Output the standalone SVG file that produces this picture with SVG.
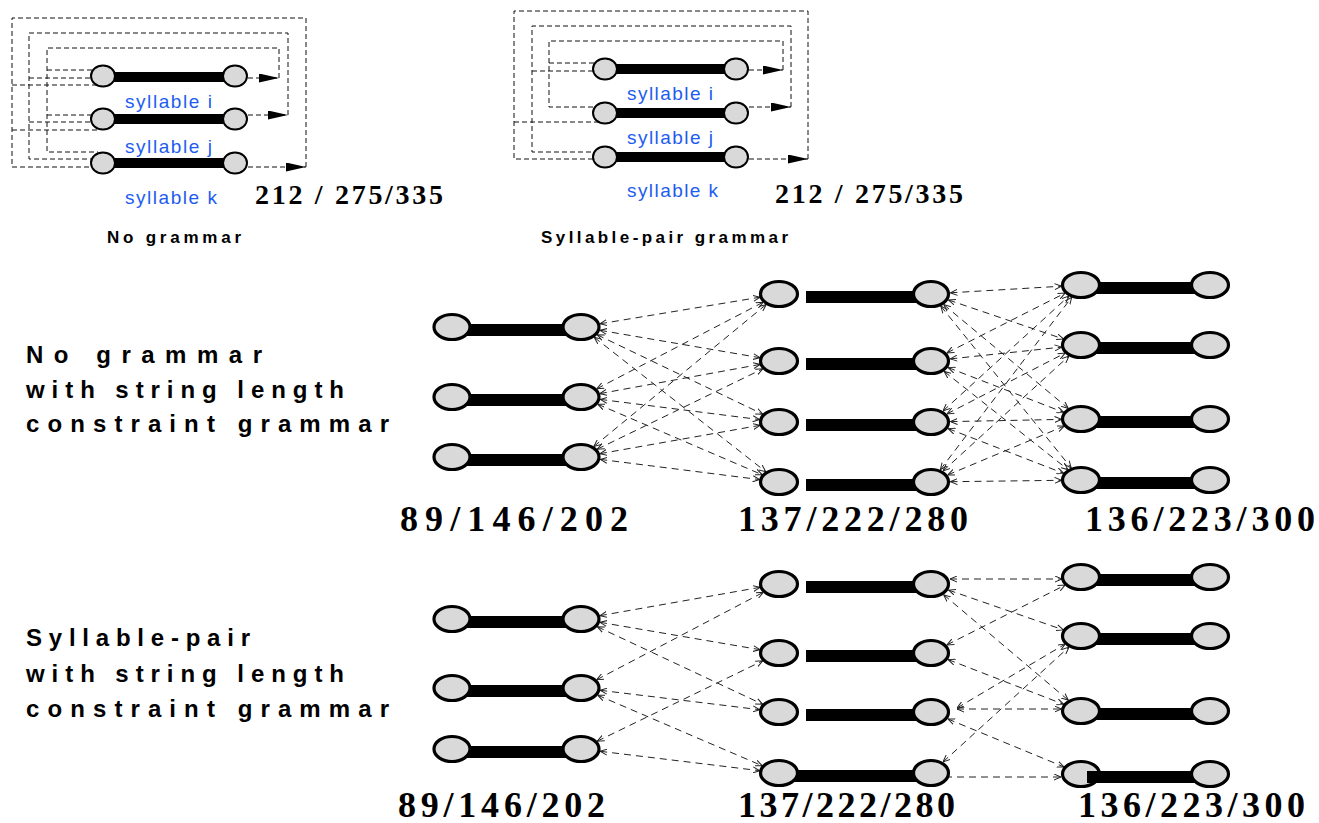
<svg xmlns="http://www.w3.org/2000/svg" width="1319" height="823" viewBox="0 0 1319 823">
<style>
.el{fill:#d9d9d9;stroke:#000;stroke-width:3.2}
.es{fill:#d9d9d9;stroke:#000;stroke-width:2}
.bar{fill:#000}
.dl{fill:none;stroke:#111;stroke-width:1;stroke-dasharray:5 3}
.ar{fill:none;stroke:#111;stroke-width:1;stroke-dasharray:5 3;marker-end:url(#fa)}
.cn{fill:none;stroke:#222;stroke-width:1;stroke-dasharray:7 5;marker-start:url(#oa);marker-end:url(#oa)}
.syl{font-family:"Liberation Sans",Arial,sans-serif;font-size:19px;fill:#1e5cf0}
.cap{font-family:"Liberation Sans",Arial,sans-serif;font-size:17px;font-weight:bold;fill:#000}
.big{font-family:"Liberation Sans",Arial,sans-serif;font-size:24px;font-weight:bold;fill:#000}
.num{font-family:"Liberation Serif","Times New Roman",serif;font-size:36px;font-weight:bold;fill:#000}
.num2{font-family:"Liberation Serif","Times New Roman",serif;font-size:28px;font-weight:bold;fill:#000}
</style>
<defs>
<marker id="fa" viewBox="0 0 20 9" refX="20" refY="4.5" markerWidth="20" markerHeight="9" markerUnits="userSpaceOnUse" orient="auto"><path d="M0,0 L20,4.5 L0,9 z" fill="#000"/></marker>
<marker id="oa" viewBox="0 0 7 7" refX="7" refY="3.5" markerWidth="7" markerHeight="7" markerUnits="userSpaceOnUse" orient="auto-start-reverse"><path d="M0,0.5 L7,3.5 L0,6.5" fill="none" stroke="#222" stroke-width="1"/></marker>
</defs>
<rect width="1319" height="823" fill="#fff"/>

<g id="connectors">
  <!-- top-left: no grammar loops -->
  <path class="dl" d="M279,78 V48 H47 V152 H98 M47,70 H98 M47,115 H98"/>
  <path class="dl" d="M288,115 V33 H29 V159 H98 M29,78 H98 M29,122 H98"/>
  <path class="dl" d="M306,167 V18 H12 V167 H98 M12,85 H98 M12,130 H98"/>
  <path class="ar" d="M240,78 H279"/>
  <path class="ar" d="M240,115 H288"/>
  <path class="ar" d="M240,167 H306"/>
  <!-- top-middle: syllable-pair loops -->
  <path class="dl" d="M783,70 V41 H549 V107 H600 M549,63 H600"/>
  <path class="dl" d="M791,107 V26 H532 V152 H600 M532,71 H600"/>
  <path class="dl" d="M808,159 V11 H514 V159 H600 M514,122 H600"/>
  <path class="ar" d="M741,70 H783"/>
  <path class="ar" d="M741,107 H791"/>
  <path class="ar" d="M741,159 H808"/>
  <!-- middle lattice col1 -> col2 -->
  <path class="cn" d="M600,323.8 L760,297.2"/>
  <path class="cn" d="M600,330.3 L760,357.7"/>
  <path class="cn" d="M597.2,334.8 L762.8,414.2"/>
  <path class="cn" d="M594.2,337.3 L765.8,471.7"/>
  <path class="cn" d="M596.8,388.8 L763.2,302.2"/>
  <path class="cn" d="M599.9,393.6 L760.1,364.4"/>
  <path class="cn" d="M600.2,399.4 L759.8,419.6"/>
  <path class="cn" d="M597.7,404.2 L762.3,474.8"/>
  <path class="cn" d="M593.8,446.5 L766.2,304.5"/>
  <path class="cn" d="M597.2,449.2 L762.8,368.8"/>
  <path class="cn" d="M599.9,453.7 L760.1,425.3"/>
  <path class="cn" d="M600.2,459.4 L759.8,479.6"/>
  <!-- middle lattice col2 -> col3 -->
  <path class="cn" d="M950.4,292.8 L1061.6,286.2"/>
  <path class="cn" d="M948.6,300 L1063.4,339"/>
  <path class="cn" d="M943.7,304.6 L1068.3,408.4"/>
  <path class="cn" d="M940.8,306.1 L1071.2,467.9"/>
  <path class="cn" d="M946.9,352.9 L1065.1,293.1"/>
  <path class="cn" d="M950.3,358.9 L1061.7,347.1"/>
  <path class="cn" d="M948.2,367.6 L1063.8,412.4"/>
  <path class="cn" d="M944.1,371.4 L1067.9,469.6"/>
  <path class="cn" d="M943,411 L1069,296"/>
  <path class="cn" d="M946.9,413.9 L1065.1,353.1"/>
  <path class="cn" d="M950.5,421.6 L1061.5,419.4"/>
  <path class="cn" d="M948.2,428.6 L1063.8,473.4"/>
  <path class="cn" d="M940.3,469.7 L1071.7,297.3"/>
  <path class="cn" d="M943,471 L1069,356"/>
  <path class="cn" d="M947.8,474.9 L1064.2,426.1"/>
  <path class="cn" d="M950.5,481.7 L1061.5,480.3"/>
  <!-- bottom lattice col1 -> col2 -->
  <path class="cn" d="M599.9,615.7 L760.1,587.3"/>
  <path class="cn" d="M600,622.3 L760,649.7"/>
  <path class="cn" d="M597.3,626.7 L762.7,704.3"/>
  <path class="cn" d="M596.7,679.7 L763.3,592.3"/>
  <path class="cn" d="M600.2,690.3 L759.8,709.7"/>
  <path class="cn" d="M597.7,695.2 L762.3,765.8"/>
  <path class="cn" d="M597.2,741.2 L762.8,660.8"/>
  <path class="cn" d="M600.2,751.3 L759.8,770.7"/>
  <!-- bottom lattice col2 -> col3 -->
  <path class="cn" d="M950,579 L1062,579"/>
  <path class="cn" d="M948.6,590.1 L1063.4,629.9"/>
  <path class="cn" d="M943.6,594.7 L1068.4,700.3"/>
  <path class="cn" d="M946.9,644.9 L1065.1,585.1"/>
  <path class="cn" d="M948.2,659.6 L1063.8,704.4"/>
  <path class="cn" d="M957,708 L1065.1,644.1"/>
  <path class="cn" d="M957,709 L1061.5,709"/>
  <path class="cn" d="M947.9,719 L1064.1,767"/>
  <path class="cn" d="M943,762 L1069,647"/>
  <path class="cn" d="M933,777 L1061,777"/>
</g>

<!-- top-left nodes -->
<g id="ng-i"><rect class="bar" x="103" y="72" width="132" height="10"/><ellipse class="es" cx="103" cy="76" rx="12" ry="10.5"/><ellipse class="es" cx="235" cy="76" rx="12" ry="10.5"/></g>
<g id="ng-j"><rect class="bar" x="103" y="114" width="132" height="10"/><ellipse class="es" cx="103" cy="119" rx="12" ry="10.5"/><ellipse class="es" cx="235" cy="119" rx="12" ry="10.5"/></g>
<g id="ng-k"><rect class="bar" x="103" y="158" width="132" height="10"/><ellipse class="es" cx="103" cy="163" rx="12" ry="10.5"/><ellipse class="es" cx="235" cy="163" rx="12" ry="10.5"/></g>
<g id="ng-labels">
  <text class="syl" x="125" y="108" textLength="87" lengthAdjust="spacing">syllable i</text>
  <text class="syl" x="125" y="153" textLength="87" lengthAdjust="spacing">syllable j</text>
  <text class="syl" x="125" y="204" textLength="92" lengthAdjust="spacing">syllable k</text>
  <text class="num2" x="255" y="204" textLength="188" lengthAdjust="spacing">212 / 275/335</text>
  <text class="cap" x="107" y="243" textLength="134" lengthAdjust="spacing">No grammar</text>
</g>

<!-- top-middle nodes -->
<g id="sp-i"><rect class="bar" x="605" y="64" width="131" height="10"/><ellipse class="es" cx="605" cy="69" rx="12" ry="10.5"/><ellipse class="es" cx="736" cy="69" rx="12" ry="10.5"/></g>
<g id="sp-j"><rect class="bar" x="605" y="108" width="131" height="10"/><ellipse class="es" cx="605" cy="113" rx="12" ry="10.5"/><ellipse class="es" cx="736" cy="113" rx="12" ry="10.5"/></g>
<g id="sp-k"><rect class="bar" x="605" y="152" width="131" height="10"/><ellipse class="es" cx="605" cy="157" rx="12" ry="10.5"/><ellipse class="es" cx="736" cy="157" rx="12" ry="10.5"/></g>
<g id="sp-labels">
  <text class="syl" x="627" y="100" textLength="86" lengthAdjust="spacing">syllable i</text>
  <text class="syl" x="627" y="144" textLength="86" lengthAdjust="spacing">syllable j</text>
  <text class="syl" x="627" y="197" textLength="91" lengthAdjust="spacing">syllable k</text>
  <text class="num2" x="775" y="203" textLength="188" lengthAdjust="spacing">212 / 275/335</text>
  <text class="cap" x="541" y="243" textLength="247" lengthAdjust="spacing">Syllable-pair grammar</text>
</g>

<!-- middle lattice -->
<g id="m1-1"><rect class="bar" x="452" y="324" width="129" height="12"/><ellipse class="el" cx="452" cy="327" rx="18" ry="12.5"/><ellipse class="el" cx="581" cy="327" rx="18" ry="12.5"/></g>
<g id="m1-2"><rect class="bar" x="452" y="394" width="129" height="12"/><ellipse class="el" cx="452" cy="397" rx="18" ry="12.5"/><ellipse class="el" cx="581" cy="397" rx="18" ry="12.5"/></g>
<g id="m1-3"><rect class="bar" x="452" y="454" width="129" height="12"/><ellipse class="el" cx="452" cy="457" rx="18" ry="12.5"/><ellipse class="el" cx="581" cy="457" rx="18" ry="12.5"/></g>
<g id="m2-1"><rect class="bar" x="806" y="291" width="125" height="12"/><ellipse class="el" cx="779" cy="294" rx="18.5" ry="12.5"/><ellipse class="el" cx="931" cy="294" rx="17.5" ry="12.5"/></g>
<g id="m2-2"><rect class="bar" x="806" y="358" width="125" height="12"/><ellipse class="el" cx="779" cy="361" rx="18.5" ry="12.5"/><ellipse class="el" cx="931" cy="361" rx="17.5" ry="12.5"/></g>
<g id="m2-3"><rect class="bar" x="806" y="419" width="125" height="12"/><ellipse class="el" cx="779" cy="422" rx="18.5" ry="12.5"/><ellipse class="el" cx="931" cy="422" rx="17.5" ry="12.5"/></g>
<g id="m2-4"><rect class="bar" x="806" y="479" width="125" height="12"/><ellipse class="el" cx="779" cy="482" rx="18.5" ry="12.5"/><ellipse class="el" cx="931" cy="482" rx="17.5" ry="12.5"/></g>
<g id="m3-1"><rect class="bar" x="1081" y="282" width="129" height="12"/><ellipse class="el" cx="1081" cy="285" rx="18.5" ry="12.5"/><ellipse class="el" cx="1210" cy="285" rx="18.5" ry="12.5"/></g>
<g id="m3-2"><rect class="bar" x="1081" y="342" width="129" height="12"/><ellipse class="el" cx="1081" cy="345" rx="18.5" ry="12.5"/><ellipse class="el" cx="1210" cy="345" rx="18.5" ry="12.5"/></g>
<g id="m3-3"><rect class="bar" x="1081" y="416" width="129" height="12"/><ellipse class="el" cx="1081" cy="419" rx="18.5" ry="12.5"/><ellipse class="el" cx="1210" cy="419" rx="18.5" ry="12.5"/></g>
<g id="m3-4"><rect class="bar" x="1081" y="477" width="129" height="12"/><ellipse class="el" cx="1081" cy="480" rx="18.5" ry="12.5"/><ellipse class="el" cx="1210" cy="480" rx="18.5" ry="12.5"/></g>
<g id="m-labels">
  <text class="big" x="26" y="363" textLength="236" lengthAdjust="spacing">No grammar</text>
  <text class="big" x="26" y="398" textLength="318" lengthAdjust="spacing">with string length</text>
  <text class="big" x="26" y="432" textLength="363" lengthAdjust="spacing">constraint grammar</text>
  <text class="num" x="400" y="531" textLength="228" lengthAdjust="spacing">89/146/202</text>
  <text class="num" x="738" y="531" textLength="230" lengthAdjust="spacing">137/222/280</text>
  <text class="num" x="1085" y="531" textLength="230" lengthAdjust="spacing">136/223/300</text>
</g>

<!-- bottom lattice -->
<g id="b1-1"><rect class="bar" x="452" y="616" width="129" height="12"/><ellipse class="el" cx="452" cy="619" rx="18" ry="12.5"/><ellipse class="el" cx="581" cy="619" rx="18" ry="12.5"/></g>
<g id="b1-2"><rect class="bar" x="452" y="685" width="129" height="12"/><ellipse class="el" cx="452" cy="688" rx="18" ry="12.5"/><ellipse class="el" cx="581" cy="688" rx="18" ry="12.5"/></g>
<g id="b1-3"><rect class="bar" x="452" y="746" width="129" height="12"/><ellipse class="el" cx="452" cy="749" rx="18" ry="12.5"/><ellipse class="el" cx="581" cy="749" rx="18" ry="12.5"/></g>
<g id="b2-1"><rect class="bar" x="806" y="581" width="125" height="12"/><ellipse class="el" cx="779" cy="584" rx="18.5" ry="12.5"/><ellipse class="el" cx="931" cy="584" rx="17.5" ry="12.5"/></g>
<g id="b2-2"><rect class="bar" x="806" y="650" width="125" height="12"/><ellipse class="el" cx="779" cy="653" rx="18.5" ry="12.5"/><ellipse class="el" cx="931" cy="653" rx="17.5" ry="12.5"/></g>
<g id="b2-3"><rect class="bar" x="806" y="709" width="125" height="12"/><ellipse class="el" cx="779" cy="712" rx="18.5" ry="12.5"/><ellipse class="el" cx="931" cy="712" rx="17.5" ry="12.5"/></g>
<g id="b2-4"><rect class="bar" x="779" y="770" width="152" height="12"/><ellipse class="el" cx="779" cy="773" rx="18.5" ry="12.5"/><ellipse class="el" cx="931" cy="773" rx="17.5" ry="12.5"/></g>
<g id="b3-1"><rect class="bar" x="1081" y="574" width="129" height="12"/><ellipse class="el" cx="1081" cy="577" rx="18.5" ry="12.5"/><ellipse class="el" cx="1210" cy="577" rx="18.5" ry="12.5"/></g>
<g id="b3-2"><rect class="bar" x="1081" y="633" width="129" height="12"/><ellipse class="el" cx="1081" cy="636" rx="18.5" ry="12.5"/><ellipse class="el" cx="1210" cy="636" rx="18.5" ry="12.5"/></g>
<g id="b3-3"><rect class="bar" x="1081" y="708" width="129" height="12"/><ellipse class="el" cx="1081" cy="711" rx="18.5" ry="12.5"/><ellipse class="el" cx="1210" cy="711" rx="18.5" ry="12.5"/></g>
<g id="b3-4"><ellipse class="el" cx="1081" cy="774" rx="18.5" ry="12.5"/><rect class="bar" x="1087" y="771" width="123" height="12"/><ellipse class="el" cx="1210" cy="774" rx="18.5" ry="12.5"/></g>
<g id="b-labels">
  <text class="big" x="26" y="646" textLength="224" lengthAdjust="spacing">Syllable-pair</text>
  <text class="big" x="26" y="682" textLength="318" lengthAdjust="spacing">with string length</text>
  <text class="big" x="26" y="717" textLength="363" lengthAdjust="spacing">constraint grammar</text>
  <text class="num" x="398" y="817" textLength="207" lengthAdjust="spacing">89/146/202</text>
  <text class="num" x="738" y="817" textLength="217" lengthAdjust="spacing">137/222/280</text>
  <text class="num" x="1078" y="817" textLength="227" lengthAdjust="spacing">136/223/300</text>
</g>
</svg>
